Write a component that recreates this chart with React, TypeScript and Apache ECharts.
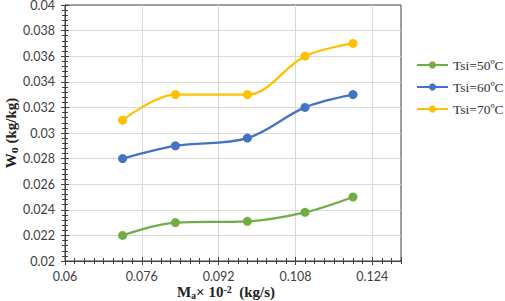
import React, { useEffect, useRef } from "react";
import * as echarts from "echarts";

// ---- data ----
const massFlow = [0.072, 0.083, 0.098, 0.11, 0.12];
const tsi50 = [0.022, 0.023, 0.0231, 0.0238, 0.025];
const tsi60 = [0.028, 0.029, 0.0296, 0.032, 0.033];
const tsi70 = [0.031, 0.033, 0.033, 0.036, 0.037];
const seriesNames = ["Tsi=50ºC", "Tsi=60ºC", "Tsi=70ºC"];
const seriesColors = ["#70AD47", "#4472C4", "#FFC000"];

// axis ranges
const X_MIN = 0.06;
const X_MAX = 0.13;
const X_MAJOR = 0.016;
const X_MINOR = 0.002;
const Y_MIN = 0.02;
const Y_MAX = 0.04;
const Y_MAJOR = 0.002;

const AXIS_COLOR = "#404040";
const GRID_COLOR = "#d9d9d9";
const SERIF = "'Liberation Serif', 'Times New Roman', serif";
const SANS = "Lato, 'Open Sans', sans-serif";

const fmt = (v: number) => parseFloat(v.toFixed(4)).toString();

export default function App() {
  const ref = useRef<HTMLDivElement>(null);

  useEffect(() => {
    if (!ref.current) return;
    const chart = echarts.init(ref.current, null, { renderer: "svg" });
    const allSeries = [tsi50, tsi60, tsi70];
    const span = X_MAX - X_MIN;

    const xBase = {
      type: "value" as const,
      min: 0,
      max: span,
      position: "bottom" as const,
      offset: 0,
      axisLine: { show: false },
      axisLabel: { show: false },
      splitLine: { show: false },
    };
    const tickLine = { color: AXIS_COLOR, width: 1 };

    const option = {
      animation: false,
      backgroundColor: "#ffffff",
      grid: {
        left: 65,
        right: 104,
        top: 5,
        bottom: 40,
        show: true,
        borderColor: AXIS_COLOR,
        borderWidth: 1,
        backgroundColor: "transparent",
        outerBoundsMode: "none",
        containLabel: false,
      },
      legend: {
        orient: "vertical",
        left: 416,
        top: 58,
        padding: 0,
        itemWidth: 31,
        itemHeight: 9,
        itemGap: 8,
        data: seriesNames,
        textStyle: { fontFamily: SERIF, fontSize: 13.5, color: "#333" },
      },
      xAxis: [
        {
          ...xBase,
          interval: X_MAJOR,
          axisLine: { show: true, lineStyle: { color: AXIS_COLOR, width: 1 } },
          axisTick: { show: true, length: 4, lineStyle: tickLine },
          axisLabel: {
            show: true,
            margin: 9,
            showMaxLabel: false,
            formatter: (v: number) => fmt(v + X_MIN),
            fontFamily: SANS,
            fontSize: 12.5,
            color: "#404040",
          },
          splitLine: { show: true, showMaxLine: false, lineStyle: { color: GRID_COLOR, width: 1 } },
          name: "{b|M}{sub|a}{n|× 10}{sup|-2}{b|  (kg/s)}",
          nameLocation: "middle",
          nameMoveOverlap: false,
          nameGap: 31,
          nameTextStyle: {
            fontFamily: SERIF,
            fontWeight: "bold",
            fontSize: 15,
            color: "#222",
            verticalAlign: "middle",
            padding: [0, 14, 0, 0],
            rich: {
              b: { fontFamily: SERIF, fontWeight: "bold", fontSize: 15, color: "#222", lineHeight: 16, verticalAlign: "middle" },
              n: { fontFamily: SERIF, fontWeight: "bold", fontSize: 15, color: "#222", lineHeight: 16, verticalAlign: "middle" },
              sub: { fontFamily: SERIF, fontWeight: "bold", fontSize: 10, color: "#222", lineHeight: 6, verticalAlign: "bottom" },
              sup: { fontFamily: SERIF, fontWeight: "bold", fontSize: 10, color: "#222", lineHeight: 6, verticalAlign: "top" },
            },
          },
        },
        {
          ...xBase,
          interval: X_MAJOR,
          axisTick: { show: true, inside: true, length: 4, lineStyle: tickLine },
        },
        {
          ...xBase,
          interval: X_MINOR,
          axisTick: { show: true, length: 3, lineStyle: tickLine },
        },
        {
          ...xBase,
          interval: X_MINOR,
          axisTick: { show: true, inside: true, length: 3, lineStyle: tickLine },
        },
      ],
      yAxis: [
        {
          type: "value",
          min: Y_MIN,
          max: Y_MAX,
          interval: Y_MAJOR,
          position: "left",
          axisLine: { show: true, lineStyle: { color: AXIS_COLOR, width: 1 } },
          axisTick: { show: true, length: 4, lineStyle: tickLine },
          minorTick: { show: true, splitNumber: 5, length: 3, lineStyle: tickLine },
          axisLabel: {
            margin: 10,
            formatter: (v: number) => fmt(v),
            fontFamily: SANS,
            fontSize: 12.5,
            color: "#404040",
          },
          splitLine: { show: true, showMaxLine: false, lineStyle: { color: GRID_COLOR, width: 1 } },
          name: "{b|W}{sub|o}{b| (kg/kg)}",
          nameLocation: "middle",
          nameMoveOverlap: false,
          nameGap: 54,
          nameTextStyle: {
            fontFamily: SERIF,
            fontWeight: "bold",
            fontSize: 15,
            color: "#222",
            verticalAlign: "middle",
            rich: {
              b: { fontFamily: SERIF, fontWeight: "bold", fontSize: 15, color: "#222", lineHeight: 18, verticalAlign: "middle" },
              sub: { fontFamily: SERIF, fontWeight: "bold", fontSize: 12, color: "#222", lineHeight: 12, verticalAlign: "bottom" },
            },
          },
        },
        {
          type: "value",
          min: Y_MIN,
          max: Y_MAX,
          interval: Y_MAJOR,
          position: "left",
          offset: 0,
          axisLine: { show: false },
          axisTick: { show: true, inside: true, length: 4, lineStyle: tickLine },
          minorTick: { show: true, splitNumber: 5, length: 3, lineStyle: tickLine },
          axisLabel: { show: false },
          splitLine: { show: false },
        },
      ],
      series: allSeries.map((vals, si) => ({
        name: seriesNames[si],
        type: "line",
        xAxisIndex: 0,
        yAxisIndex: 0,
        smooth: 0.35,
        symbol: "circle",
        symbolSize: 9,
        lineStyle: { color: seriesColors[si], width: 2.25 },
        itemStyle: { color: seriesColors[si] },
        data: massFlow.map((x, i) => [x - X_MIN, vals[i]]),
      })),
    };

    chart.setOption(option as any);
    return () => chart.dispose();
  }, []);

  return (
    <div
      ref={ref}
      style={{ position: "fixed", left: 0, top: 0, width: 505, height: 301, background: "#fff" }}
    />
  );
}
